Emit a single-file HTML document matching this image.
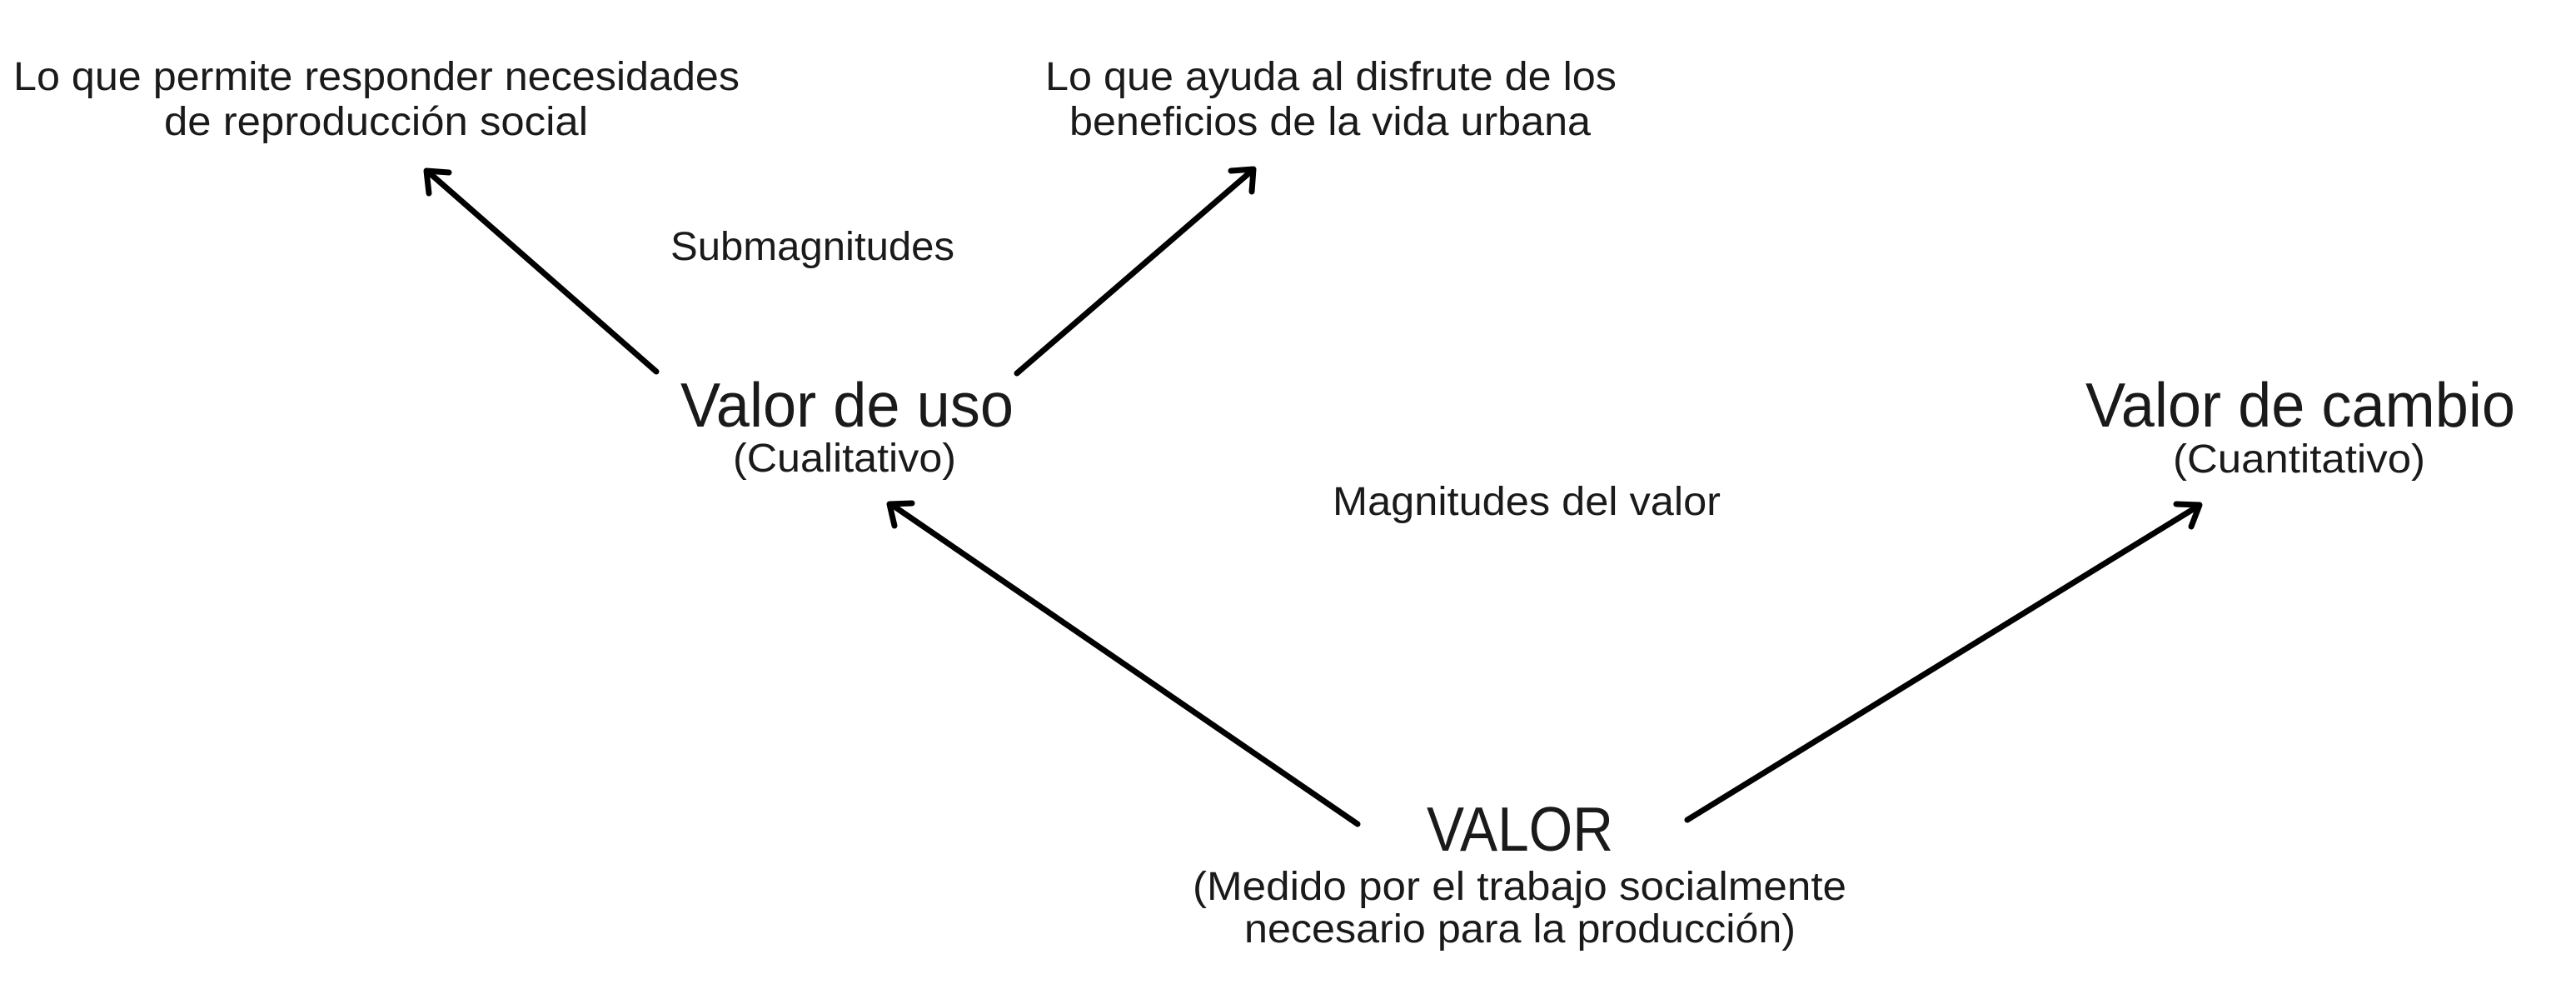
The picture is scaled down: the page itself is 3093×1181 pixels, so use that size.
<!DOCTYPE html>
<html><head><meta charset="utf-8"><style>
html,body{margin:0;padding:0;background:#fff;}
svg{display:block;}
text{font-family:"Liberation Sans Narrow","Liberation Sans",sans-serif;fill:#1a1a1a;}
</style></head><body>
<svg width="3093" height="1181" viewBox="0 0 3093 1181" xmlns="http://www.w3.org/2000/svg">
<g font-size="48">
<text x="16" y="108" textLength="872" lengthAdjust="spacingAndGlyphs">Lo que permite responder necesidades</text>
<text x="197" y="162" textLength="509" lengthAdjust="spacingAndGlyphs">de reproducción social</text>
<text x="1255" y="108" textLength="686" lengthAdjust="spacingAndGlyphs">Lo que ayuda al disfrute de los</text>
<text x="1284" y="162" textLength="626" lengthAdjust="spacingAndGlyphs">beneficios de la vida urbana</text>
<text x="805" y="312" textLength="341" lengthAdjust="spacingAndGlyphs">Submagnitudes</text>
<text x="880" y="566" textLength="268" lengthAdjust="spacingAndGlyphs">(Cualitativo)</text>
<text x="2609" y="567" textLength="303" lengthAdjust="spacingAndGlyphs">(Cuantitativo)</text>
<text x="1600" y="618" textLength="466" lengthAdjust="spacingAndGlyphs">Magnitudes del valor</text>
<text x="1432" y="1080" textLength="785" lengthAdjust="spacingAndGlyphs">(Medido por el trabajo socialmente</text>
<text x="1494" y="1131" textLength="662" lengthAdjust="spacingAndGlyphs">necesario para la producción)</text>
</g>
<g font-size="75">
<text x="817" y="512" textLength="400" lengthAdjust="spacingAndGlyphs">Valor de uso</text>
<text x="2504" y="512" textLength="516" lengthAdjust="spacingAndGlyphs">Valor de cambio</text>
<text x="1713" y="1021" textLength="224" lengthAdjust="spacingAndGlyphs">VALOR</text>
</g>
<g stroke="#000" stroke-width="7" fill="none" stroke-linecap="round" stroke-linejoin="round">
<line x1="788" y1="446" x2="515" y2="207"/>
<path d="M515 232 L512 205 L539 207"/>
<line x1="1221" y1="448" x2="1503" y2="205"/>
<path d="M1478 205 L1505 203 L1503 230"/>
<line x1="1630" y1="989" x2="1071" y2="606"/>
<path d="M1074 631 L1068 605 L1095 604"/>
<line x1="2026" y1="984" x2="2640" y2="607"/>
<path d="M2613 605 L2641 606 L2631 632"/>
</g>
</svg>
</body></html>
